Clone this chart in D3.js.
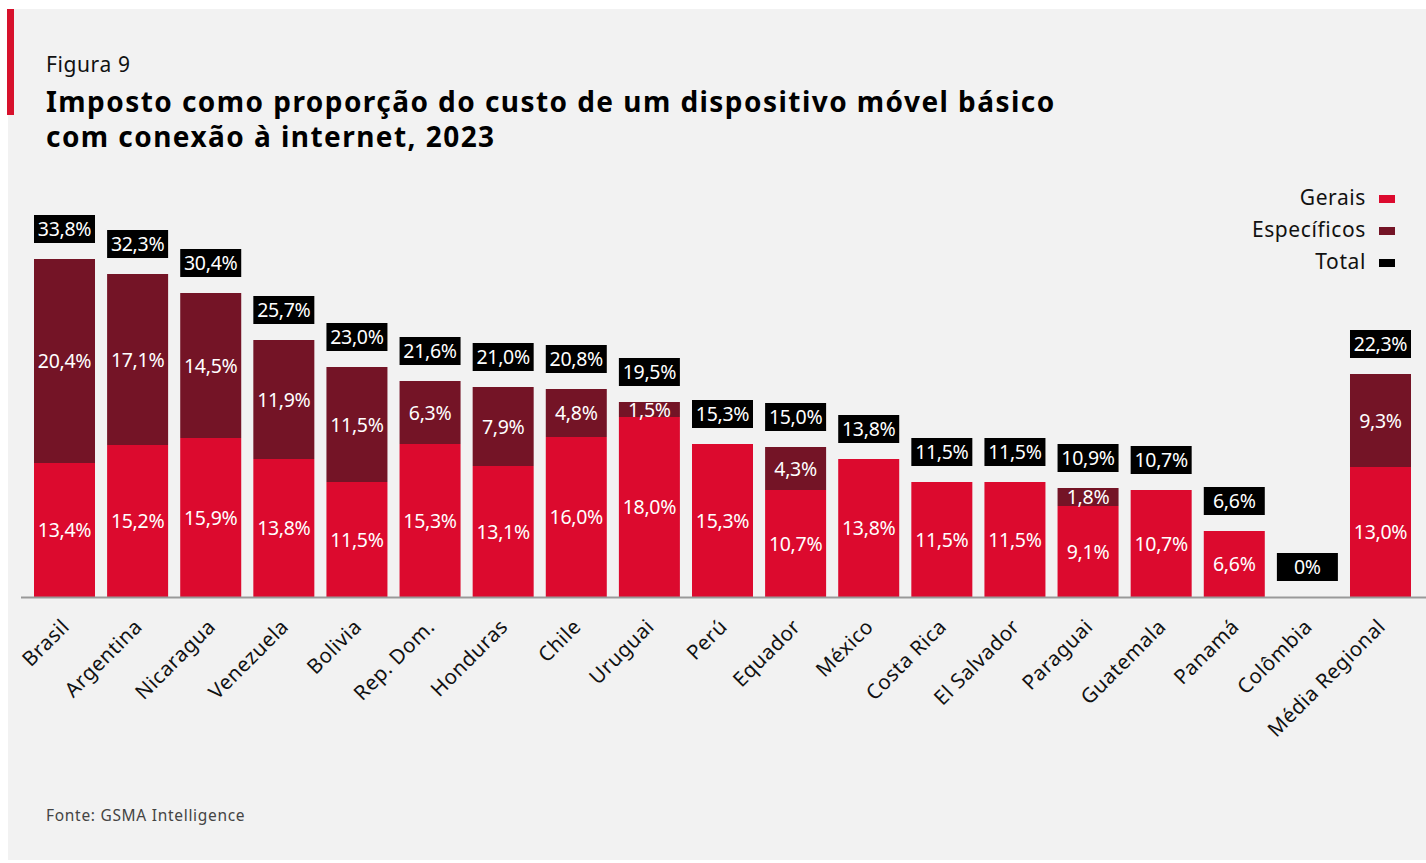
<!DOCTYPE html>
<html>
<head>
<meta charset="utf-8">
<script src="https://cdn.jsdelivr.net/npm/d3@7"></script>
<style>
  body { margin: 0; background: #fff; }
  svg { display: block; font-family: "Noto Sans", "Open Sans", sans-serif; }
</style>
</head>
<body>
<div id="chart"></div>
<script>
var countries = ["Brasil", "Argentina", "Nicaragua", "Venezuela", "Bolivia", "Rep. Dom.", "Honduras",
  "Chile", "Uruguai", "Perú", "Equador", "México", "Costa Rica", "El Salvador", "Paraguai",
  "Guatemala", "Panamá", "Colômbia", "Média Regional"];
var gerais = [13.4, 15.2, 15.9, 13.8, 11.5, 15.3, 13.1, 16.0, 18.0, 15.3, 10.7, 13.8, 11.5, 11.5, 9.1, 10.7, 6.6, 0, 13.0];
var especificos = [20.4, 17.1, 14.5, 11.9, 11.5, 6.3, 7.9, 4.8, 1.5, 0, 4.3, 0, 0, 0, 1.8, 0, 0, 0, 9.3];
var totals = [33.8, 32.3, 30.4, 25.7, 23.0, 21.6, 21.0, 20.8, 19.5, 15.3, 15.0, 13.8, 11.5, 11.5, 10.9, 10.7, 6.6, 0, 22.3];
var seriesNames = ["Gerais", "Específicos", "Total"];
var seriesColors = ["#dc0a2e", "#741426", "#000000"];

var W = 1426, H = 863;
var fmt = function(v) { return v === 0 ? "0%" : v.toFixed(1).replace(".", ",") + "%"; };

var svg = d3.select("#chart").append("svg")
  .attr("width", W)
  .attr("height", H);

// panel
svg.append("rect").attr("x", 8).attr("y", 9).attr("width", W - 8).attr("height", 851).attr("fill", "#f2f2f2");
svg.append("rect").attr("x", 7).attr("y", 9).attr("width", 7).attr("height", 106).attr("fill", "#d7112c");

svg.append("text").attr("x", 46).attr("y", 72).attr("font-size", 21).attr("letter-spacing", 0.6)
  .attr("fill", "#111").text("Figura 9");
svg.append("text").attr("x", 46).attr("y", 112).attr("font-size", 28).attr("font-weight", "bold")
  .attr("letter-spacing", 1.45).attr("fill", "#000")
  .text("Imposto como proporção do custo de um dispositivo móvel básico");
svg.append("text").attr("x", 46).attr("y", 147).attr("font-size", 28).attr("font-weight", "bold")
  .attr("letter-spacing", 1.45).attr("fill", "#000")
  .text("com conexão à internet, 2023");

svg.append("text").attr("x", 46).attr("y", 821).attr("font-size", 15.5).attr("letter-spacing", 0.7)
  .attr("fill", "#444").text("Fonte: GSMA Intelligence");

var x = d3.scaleBand()
  .domain(countries)
  .range([34, 1411])
  .paddingInner(0.1656)
  .paddingOuter(0);

var y = d3.scaleLinear()
  .domain([0, 10])
  .range([597, 497]);

var rows = countries.map(function(c, i) {
  return {country: c, gerais: gerais[i], especificos: especificos[i], total: totals[i]};
});

var stack = d3.stack().keys(["gerais", "especificos"]);
var layers = stack(rows);

var g = svg.append("g");

layers.forEach(function(layer, li) {
  g.selectAll(".seg" + li)
    .data(layer)
    .enter().append("rect")
      .attr("x", function(d) { return x(d.data.country); })
      .attr("width", x.bandwidth())
      .attr("y", function(d) { return y(d[1]); })
      .attr("height", function(d) { return y(d[0]) - y(d[1]); })
      .attr("fill", seriesColors[li]);

  g.selectAll(".segl" + li)
    .data(layer.filter(function(d) { return d[1] - d[0] > 0; }))
    .enter().append("text")
      .attr("x", function(d) { return x(d.data.country) + x.bandwidth() / 2; })
      .attr("y", function(d) { return (y(d[0]) + y(d[1])) / 2; })
      .attr("dy", "0.36em")
      .attr("text-anchor", "middle")
      .attr("font-size", 19.5)
      .attr("fill", "#fff")
      .attr("letter-spacing", -0.3)
      .text(function(d) { return fmt(d[1] - d[0]); });
});

// total boxes
var tot = g.selectAll(".tot").data(rows).enter().append("g");
tot.append("rect")
  .attr("x", function(d) { return x(d.country); })
  .attr("width", x.bandwidth())
  .attr("y", function(d) { return y(d.total) - 16 - 28; })
  .attr("height", 28)
  .attr("fill", "#000");
tot.append("text")
  .attr("x", function(d) { return x(d.country) + x.bandwidth() / 2; })
  .attr("y", function(d) { return y(d.total) - 16 - 14; })
  .attr("dy", "0.36em")
  .attr("text-anchor", "middle")
  .attr("font-size", 19.5)
  .attr("fill", "#fff")
  .attr("letter-spacing", -0.3)
  .text(function(d) { return fmt(d.total); });

// axis
var xAxis = d3.axisBottom(x).tickSize(0).tickPadding(0);
var ax = svg.append("g")
  .attr("transform", "translate(0," + y(0) + ")")
  .call(xAxis);
ax.select(".domain").remove();
ax.append("line").attr("x1", 21).attr("x2", W).attr("y1", 0.5).attr("y2", 0.5)
  .attr("stroke", "#999").attr("stroke-width", 2);
ax.selectAll(".tick text")
  .attr("font-family", "Noto Sans, sans-serif")
  .attr("font-size", 20.5)
  .attr("letter-spacing", 0.5)
  .attr("fill", "#111")
  .attr("text-anchor", "end")
  .attr("dy", 0)
  .attr("transform", "translate(6,31) rotate(-45)");

// legend
var legend = svg.append("g");
seriesNames.forEach(function(name, i) {
  var ly = 198 + i * 32;
  legend.append("text").attr("x", 1366).attr("y", ly).attr("dy", "0.35em")
    .attr("text-anchor", "end").attr("font-size", 21).attr("letter-spacing", 0.6)
    .attr("fill", "#111").text(name);
  legend.append("rect").attr("x", 1379).attr("y", ly - 3).attr("width", 16).attr("height", 8)
    .attr("fill", seriesColors[i]);
});
</script>
</body>
</html>
